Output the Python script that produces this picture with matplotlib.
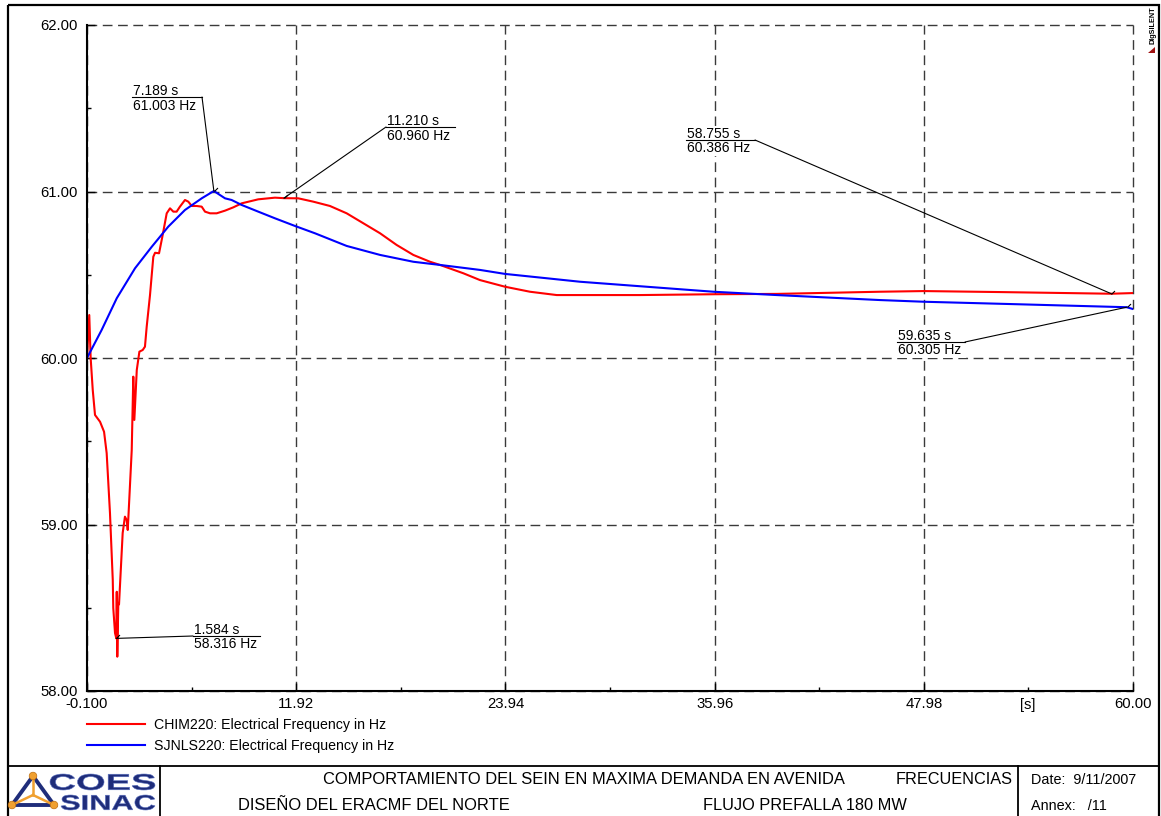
import matplotlib
matplotlib.use("Agg")
import matplotlib.pyplot as plt
from matplotlib.path import Path
from matplotlib.textpath import TextPath
from matplotlib.patches import PathPatch, Polygon, Circle, Rectangle
from matplotlib.font_manager import FontProperties
from matplotlib.transforms import Affine2D

plt.rcParams['font.family'] = ['Liberation Sans', 'DejaVu Sans']

W, H = 1161, 816

# CHIM220: Electrical Frequency in Hz
chim_t = [-0.10, 0.03, 0.11, 0.23, 0.36, 0.65, 0.88, 1.03, 1.22, 1.38, 1.41, 1.51, 1.584, 1.61,
          1.64, 1.70, 1.74, 1.95, 2.08, 2.18, 2.24, 2.27, 2.47, 2.56, 2.62, 2.76, 2.91, 3.10,
          3.23, 3.33, 3.52, 3.71, 3.81, 4.04, 4.23, 4.48, 4.67, 4.86, 5.05, 5.24, 5.53, 5.72,
          5.92, 6.20, 6.49, 6.68, 6.97, 7.35, 7.83, 8.31, 8.79, 9.74, 10.70, 11.21, 12.04,
          12.90, 13.86, 14.82, 15.78, 16.74, 17.69, 18.65, 19.61, 20.18, 21.52, 22.48, 23.92,
          25.35, 26.89, 28.23, 31.67, 35.98, 39.53, 45.46, 47.99, 52.36, 58.755, 60.00]
chim_f = [60.000, 60.258, 60.000, 59.808, 59.658, 59.617, 59.557, 59.429, 59.069, 58.667, 58.498,
          58.348, 58.316, 58.596, 58.206, 58.529, 58.52, 58.949, 59.047, 59.027, 58.967, 59.027,
          59.447, 59.888, 59.628, 59.928, 60.038, 60.048, 60.068, 60.188, 60.378, 60.608, 60.632,
          60.629, 60.729, 60.869, 60.899, 60.879, 60.879, 60.909, 60.949, 60.939, 60.913, 60.913,
          60.909, 60.879, 60.869, 60.869, 60.885, 60.905, 60.929, 60.953, 60.963, 60.960, 60.959,
          60.939, 60.913, 60.869, 60.809, 60.749, 60.679, 60.619, 60.578, 60.559, 60.509, 60.468,
          60.428, 60.398, 60.378, 60.378, 60.378, 60.383, 60.385, 60.398, 60.402, 60.396, 60.386,
          60.39]

# SJNLS220: Electrical Frequency in Hz
sjnls_t = [-0.10, 0.74, 1.61, 2.66, 3.62, 4.57, 5.53, 6.49, 7.189, 7.83, 8.21, 8.79, 9.74, 10.70,
           11.85, 13.00, 14.82, 16.74, 18.65, 20.18, 22.48, 23.92, 26.31, 28.23, 35.89, 39.53,
           45.46, 47.95, 53.32, 59.635, 60.00]
sjnls_f = [60.000, 60.168, 60.359, 60.539, 60.668, 60.789, 60.889, 60.959, 61.003, 60.959, 60.949,
           60.919, 60.879, 60.839, 60.793, 60.749, 60.673, 60.619, 60.578, 60.559, 60.529, 60.505,
           60.479, 60.458, 60.398, 60.378, 60.348, 60.338, 60.323, 60.305, 60.294]

x_ticks = [-0.1, 11.92, 23.94, 35.96, 47.98, 60.0]
x_labels = ['-0.100', '11.92', '23.94', '35.96', '47.98', '60.00']
x_minor = [5.91, 17.93, 29.95, 41.97, 53.99]
y_ticks = [58, 59, 60, 61, 62]
y_labels = ['58.00', '59.00', '60.00', '61.00', '62.00']
y_minor = [58.5, 59.5, 60.5, 61.5]

# marked points
ann_t = [7.189, 11.210, 58.755, 59.635, 1.584]
ann_f = [61.003, 60.960, 60.386, 60.305, 58.316]
# label box in pixels: x left, x right, underline y, which end the leader starts from
ann_box = [(132, 202, 97, 'r'), (386, 455, 127, 'l'), (686, 755, 140, 'r'),
           (897, 965, 342, 'r'), (193, 260, 636, 'l')]

fig = plt.figure(figsize=(W / 100, H / 100), dpi=100)

# pixel overlay for frame / title block
ov = fig.add_axes([0, 0, 1, 1])
ov.set_xlim(0, W)
ov.set_ylim(H, 0)
ov.axis('off')

ax = fig.add_axes([87 / W, 1 - 691 / H, 1046 / W, 666 / H])
ax.plot(chim_t, chim_f, color='#ff0000', lw=1.5, label='CHIM220: Electrical Frequency in Hz')
ax.plot(sjnls_t, sjnls_f, color='#0000ff', lw=1.5, label='SJNLS220: Electrical Frequency in Hz')
ax.set_xlim(-0.1, 60.0)
ax.set_ylim(58, 62)
ax.set_xticks(x_ticks)
ax.set_xticklabels(x_labels)
ax.set_xticks(x_minor, minor=True)
ax.set_yticks(y_ticks)
ax.set_yticklabels(y_labels)
ax.set_yticks(y_minor, minor=True)
ax.tick_params(which='major', direction='in', length=6, width=1, labelsize=10.7)
ax.tick_params(axis='x', which='major', pad=4.5)
ax.tick_params(axis='y', which='major', pad=6.5)
ax.tick_params(which='minor', direction='in', length=3, width=1)
for s in ['top', 'right']:
    ax.spines[s].set_visible(False)
for s in ['left', 'bottom']:
    ax.spines[s].set_linewidth(1.5)
ax.grid(True, which='major', ls=(0, (7, 4)), color='#3a3a3a', lw=1)
for gl in ax.get_xgridlines() + ax.get_ygridlines():
    gl.set_clip_on(False)

ax.legend(loc='upper left', bbox_to_anchor=(87 / W, 1 - 718 / H), bbox_transform=fig.transFigure,
          frameon=False, borderpad=0, borderaxespad=0, handlelength=4.1, handletextpad=0.6,
          labelspacing=0.5, fontsize=10.2)

# annotations
for t, f, (x0, x1, yl, side) in zip(ann_t, ann_f, ann_box):
    ax.add_patch(Rectangle((x0 - 1, yl - 14), x1 - x0 + 2, 30, fc='white', ec='none',
                           transform=ov.transData, zorder=1.8))
    ax.plot([x0, x1], [yl, yl], color='black', lw=0.8, transform=ov.transData, clip_on=False,
            zorder=3)
    ax.text(x0 + 1, yl - 2, '%.3f s' % t, fontsize=10, transform=ov.transData,
            ha='left', va='baseline', zorder=3)
    ax.text(x0 + 1, yl + 12.5, '%.3f Hz' % f, fontsize=10, transform=ov.transData,
            ha='left', va='baseline', zorder=3)
    xs = x1 if side == 'r' else x0
    ax.annotate('', xy=(t, f), xycoords='data', xytext=(xs, yl), textcoords=ov.transData,
                arrowprops=dict(arrowstyle='-', lw=0.8, color='black', shrinkA=0, shrinkB=0))
    ax.plot([t], [f], marker=Path([(0, 0), (1, 1)]), ms=5, mew=0.8, color='black',
            mfc='none', clip_on=False)

ov.text(1028, 705, '[s]', fontsize=10.7, ha='center', va='center')

# frame and title block
ov.add_patch(Rectangle((8, 5), 1151, 820, fill=False, lw=1.6, ec='black'))
ov.plot([8, 1159], [766, 766], color='black', lw=1.3)
ov.plot([160, 160], [766, 820], color='black', lw=1.3)
ov.plot([1018, 1018], [766, 820], color='black', lw=1.3)

ov.text(584, 780, 'COMPORTAMIENTO DEL SEIN EN MAXIMA DEMANDA EN AVENIDA', fontsize=11.9,
        ha='center', va='center')
ov.text(896, 780, 'FRECUENCIAS', fontsize=11.7, ha='left', va='center')
ov.text(238, 806, 'DISEÑO DEL ERACMF DEL NORTE', fontsize=11.9, ha='left', va='center')
ov.text(805, 806, 'FLUJO PREFALLA 180 MW', fontsize=11.8, ha='center', va='center')
ov.text(1031, 780, 'Date:  9/11/2007', fontsize=10.4, ha='left', va='center')
ov.text(1031, 806, 'Annex:   /11', fontsize=10.4, ha='left', va='center')

# DIgSILENT stamp
ov.text(1153, 25, 'DIgSILENT', rotation=90, fontsize=5.2, fontweight='bold',
        ha='center', va='center')
ov.add_patch(Polygon([(1148, 53), (1155, 53), (1155, 47)], closed=True, fc='#a01010', ec='none'))


# logo
def fit_text(s, x0, x1, y0, y1, color):
    tp = TextPath((0, 0), s, size=10, prop=FontProperties(family='Liberation Sans', weight='bold'))
    bb = tp.get_extents()
    tr = Affine2D().translate(-bb.x0, -bb.y0).scale((x1 - x0) / bb.width,
                                                     -(y1 - y0) / bb.height).translate(x0, y1)
    ov.add_patch(PathPatch(tr.transform_path(tp), fc=color, ec='#5a70c0', lw=0.4))


navy = '#1f2d7a'
orange = '#f0a030'
fit_text('COES', 50, 155, 774, 790, navy)
fit_text('SINAC', 61, 155, 795, 810, navy)
tri = [(33, 776), (12, 805), (54, 805)]
ov.add_patch(Polygon(tri, closed=True, fill=False, ec=navy, lw=2.8))
for p in tri:
    ov.plot([33, p[0]], [795, p[1]], color=orange, lw=1.8)
    ov.add_patch(Circle(p, 3.8, fc=orange, ec='#c07010', lw=0.5, zorder=3))

fig.savefig('out.png', dpi=100)
